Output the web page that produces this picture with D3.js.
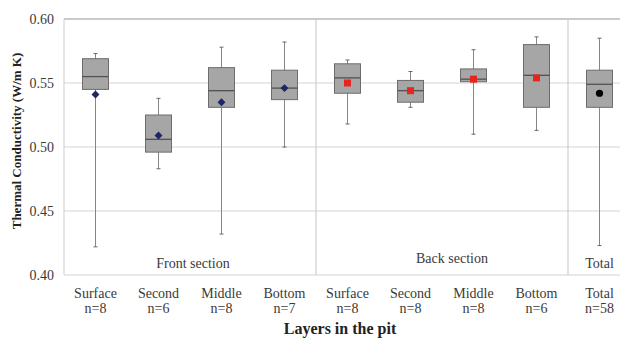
<!DOCTYPE html>
<html>
<head>
<meta charset="utf-8">
<script src="https://cdn.jsdelivr.net/npm/d3@7"></script>
<style>
  html, body { margin: 0; padding: 0; background: #fff; }
  svg { display: block; font-family: "Liberation Serif", "Times New Roman", serif; }
</style>
</head>
<body>
<svg id="chart" width="620" height="338"></svg>
<script>
// ---- data ----
const categories = ["Surface","Second","Middle","Bottom","Surface","Second","Middle","Bottom","Total"];
const counts     = ["n=8","n=6","n=8","n=7","n=8","n=8","n=8","n=6","n=58"];
const sections   = ["front","front","front","front","back","back","back","back","total"];
const whiskerLow  = [0.422, 0.483, 0.432, 0.500, 0.518, 0.531, 0.510, 0.513, 0.423];
const q1          = [0.545, 0.496, 0.531, 0.537, 0.542, 0.535, 0.551, 0.531, 0.531];
const median      = [0.555, 0.506, 0.544, 0.546, 0.554, 0.544, 0.553, 0.556, 0.549];
const q3          = [0.569, 0.525, 0.562, 0.560, 0.565, 0.552, 0.561, 0.580, 0.560];
const whiskerHigh = [0.573, 0.538, 0.578, 0.582, 0.568, 0.559, 0.576, 0.586, 0.585];
const means       = [0.541, 0.509, 0.535, 0.546, 0.550, 0.544, 0.553, 0.554, 0.542];
const yTicks = [0.40, 0.45, 0.50, 0.55, 0.60];
const sectionLabels = ["Front section", "Back section", "Total"];
const yTitle = "Thermal Conductivity (W/m K)";
const xTitle = "Layers in the pit";

// ---- layout ----
const svg = d3.select("#chart");
const mLeft = 64, mRight = 620, mTop = 19, mBottom = 275;
const idx = d3.range(categories.length);
const x = d3.scaleBand().domain(idx).range([mLeft, mLeft + 63 * categories.length]).padding(0);
const y = d3.scaleLinear().domain([0.40, 0.60]).range([mBottom, mTop]);
const cx = i => x(i) + x.bandwidth() / 2;
const boxW = 26, capW = 4;

// gridlines
svg.append("g").selectAll("line").data(yTicks).join("line")
  .attr("x1", mLeft).attr("x2", mRight)
  .attr("y1", d => y(d)).attr("y2", d => y(d))
  .attr("stroke", d => d === 0.60 ? "#bfb8b8" : "#d8d2d2")
  .attr("stroke-width", d => d === 0.60 ? 1.5 : 1);

// left axis line
svg.append("line").attr("x1", mLeft).attr("x2", mLeft).attr("y1", mTop).attr("y2", mBottom)
  .attr("stroke", "#d2cccc").attr("stroke-width", 1);

// section dividers
svg.append("g").selectAll("line").data([4, 8]).join("line")
  .attr("x1", d => x(d)).attr("x2", d => x(d))
  .attr("y1", mTop).attr("y2", mBottom)
  .attr("stroke", "#c9c3c3").attr("stroke-width", 1);

// y axis
const yAxis = d3.axisLeft(y).tickValues(yTicks).tickFormat(d3.format(".2f")).tickSize(0).tickPadding(10);
const ya = svg.append("g").attr("transform", `translate(${mLeft},0)`).call(yAxis);
ya.select(".domain").remove();
ya.selectAll("text").attr("font-family", "Liberation Serif").attr("font-size", 14).attr("fill", "#3a3a3a");

// whiskers
const g = svg.append("g");
g.selectAll("line.wh").data(idx).join("line").attr("class", "wh")
  .attr("x1", cx).attr("x2", cx)
  .attr("y1", i => y(whiskerLow[i])).attr("y2", i => y(whiskerHigh[i]))
  .attr("stroke", "#8a8585").attr("stroke-width", 1);
g.selectAll("line.capH").data(idx).join("line").attr("class", "capH")
  .attr("x1", i => cx(i) - capW / 2).attr("x2", i => cx(i) + capW / 2)
  .attr("y1", i => y(whiskerHigh[i])).attr("y2", i => y(whiskerHigh[i]))
  .attr("stroke", "#6a6565").attr("stroke-width", 1);
g.selectAll("line.capL").data(idx).join("line").attr("class", "capL")
  .attr("x1", i => cx(i) - capW / 2).attr("x2", i => cx(i) + capW / 2)
  .attr("y1", i => y(whiskerLow[i])).attr("y2", i => y(whiskerLow[i]))
  .attr("stroke", "#6a6565").attr("stroke-width", 1);

// boxes
g.selectAll("rect.box").data(idx).join("rect").attr("class", "box")
  .attr("x", i => cx(i) - boxW / 2).attr("width", boxW)
  .attr("y", i => y(q3[i])).attr("height", i => y(q1[i]) - y(q3[i]))
  .attr("fill", "#a6a6a6").attr("stroke", "#6f6b6b").attr("stroke-width", 1);

// medians
g.selectAll("line.med").data(idx).join("line").attr("class", "med")
  .attr("x1", i => cx(i) - boxW / 2).attr("x2", i => cx(i) + boxW / 2)
  .attr("y1", i => y(median[i])).attr("y2", i => y(median[i]))
  .attr("stroke", "#555050").attr("stroke-width", 1.3);

// means
idx.forEach(i => {
  const mx = cx(i), my = y(means[i]);
  if (sections[i] === "front") {
    g.append("path").attr("d", d3.symbol(d3.symbolDiamond2, 40)())
      .attr("transform", `translate(${mx},${my})`).attr("fill", "#1f2565");
  } else if (sections[i] === "back") {
    g.append("rect").attr("x", mx - 3.5).attr("y", my - 3.5).attr("width", 7).attr("height", 7)
      .attr("fill", "#e5261e");
  } else {
    g.append("circle").attr("cx", mx).attr("cy", my).attr("r", 3.6).attr("fill", "#000");
  }
});

// section labels
const secPos = [(cx(1) + cx(2)) / 2 + 3, (cx(5) + cx(6)) / 2 + 10, cx(8)];
const secBase = [268, 263, 268];
svg.append("g").selectAll("text").data(sectionLabels).join("text")
  .attr("x", (d, i) => secPos[i]).attr("y", (d, i) => secBase[i])
  .attr("text-anchor", "middle").attr("font-size", 14).attr("fill", "#3a3a3a")
  .text(d => d);

// x category labels
svg.append("g").selectAll("text").data(idx).join("text")
  .attr("x", cx).attr("y", 298).attr("text-anchor", "middle")
  .attr("font-size", 14).attr("fill", "#3a3a3a").text(i => categories[i]);
svg.append("g").selectAll("text").data(idx).join("text")
  .attr("x", cx).attr("y", 313).attr("text-anchor", "middle")
  .attr("font-size", 14).attr("fill", "#3a3a3a").text(i => counts[i]);

// axis titles
svg.append("text").attr("x", 340).attr("y", 334).attr("text-anchor", "middle")
  .attr("font-size", 16).attr("font-weight", "bold").attr("fill", "#222").text(xTitle);
svg.append("text").attr("transform", "translate(21,141) rotate(-90)")
  .attr("text-anchor", "middle").attr("font-size", 13).attr("font-weight", "bold")
  .attr("fill", "#222").text(yTitle);
</script>
</body>
</html>
